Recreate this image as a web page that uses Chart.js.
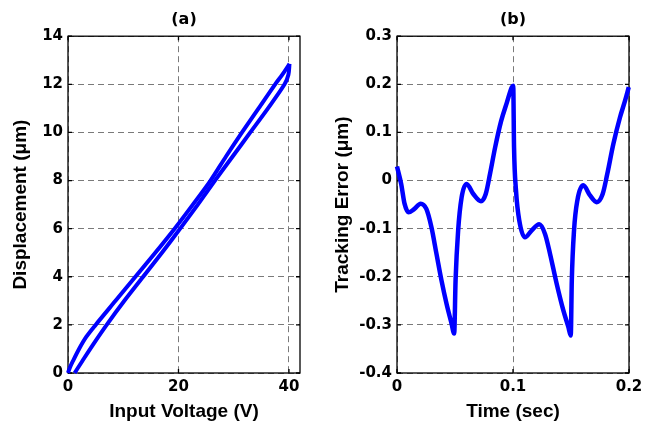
<!DOCTYPE html>
<html lang="en">
<head>
  <meta charset="UTF-8" />
  <title>Hysteresis and tracking error</title>
  <script src="https://cdn.jsdelivr.net/npm/chart.js"></script>
  <style>
    body {
      margin: 0;
      background-color: #ffffff;
    }
    .panel {
      position: absolute;
      top: 0;
    }
  </style>
</head>
<body>
  <canvas id="chartA" class="panel" width="327" height="423" style="left:0"></canvas>
  <canvas id="chartB" class="panel" width="327" height="423" style="left:327px"></canvas>

  <script>
    // (a) hysteresis loop: rising voltage branch (lower) and falling branch (upper)
    const voltUp = [1.2, 2.6, 4.6, 7.0, 10.2, 13.6, 17.0, 20.3, 23.5, 26.6, 29.8, 33.0, 36.2, 39.2, 39.9, 40.1];
    const dispUp = [0, 0.5, 1.2, 2.0, 3.0, 4.0, 5.0, 6.0, 7.0, 8.0, 9.0, 10.0, 11.0, 12.0, 12.4, 12.85];
    const voltDown = [40.1, 38.8, 37.5, 34.5, 31.5, 28.6, 25.8, 22.6, 19.3, 15.8, 12.2, 8.6, 5.0, 3.3, 2.0, 0.9, 0.3, 0];
    const dispDown = [12.85, 12.4, 12.0, 11.0, 10.0, 9.0, 8.0, 7.0, 6.0, 5.0, 4.0, 3.0, 2.0, 1.5, 1.0, 0.5, 0.2, 0];

    // (b) tracking error over time
    const timeB = [0, 0.0036, 0.0065, 0.0100, 0.0150, 0.0204, 0.0253, 0.0297, 0.0340, 0.0383,
      0.0427, 0.0470, 0.0493, 0.0505, 0.0527, 0.0557, 0.0600, 0.0658, 0.0724, 0.0765,
      0.0802, 0.0846, 0.0898, 0.0947, 0.0990, 0.1002, 0.1009, 0.1026, 0.1054, 0.1103,
      0.1160, 0.1226, 0.1276, 0.1319, 0.1376, 0.1434, 0.1477, 0.1498, 0.1507, 0.1526,
      0.1555, 0.1606, 0.1664, 0.1722, 0.1773, 0.1813, 0.1865, 0.1922, 0.1966, 0.1998];
    const errB = [0.029, -0.007, -0.048, -0.066, -0.059, -0.048, -0.059, -0.097, -0.152, -0.207,
      -0.256, -0.297, -0.318, -0.207, -0.104, -0.035, -0.007, -0.028, -0.043, -0.028,
      0.014, 0.069, 0.124, 0.162, 0.194, 0.197, 0.069, -0.021, -0.083, -0.118,
      -0.104, -0.091, -0.111, -0.152, -0.214, -0.270, -0.304, -0.322, -0.207, -0.104,
      -0.041, -0.010, -0.031, -0.045, -0.028, 0.014, 0.076, 0.131, 0.166, 0.194];

    // tick values
    const xTicksA = [0, 20, 40];
    const yTicksA = [0, 2, 4, 6, 8, 10, 12, 14];
    const xTicksB = [0, 0.1, 0.2];
    const yTicksB = [-0.4, -0.3, -0.2, -0.1, 0, 0.1, 0.2, 0.3];

    const toPoints = (xs, ys) => xs.map((v, i) => ({ x: v, y: ys[i] }));

    const tickFont = { family: 'DejaVu Sans', weight: 'bold', size: 15 };
    const titleFont = { family: 'DejaVu Sans', weight: 'bold', size: 16 };
    const axisFont = { family: 'Liberation Sans', weight: 'bold', size: 19 };
    const blue = '#0000ff';
    Chart.defaults.color = '#000';

    // MATLAB style box with inward ticks
    const boxPlugin = {
      id: 'box',
      beforeDatasetsDraw(chart) {
        const { ctx, chartArea: a, scales: { x, y } } = chart;
        ctx.save();
        ctx.strokeStyle = '#000';
        ctx.lineWidth = 1.3;
        ctx.beginPath();
        x.ticks.forEach(t => {
          const p = x.getPixelForValue(t.value);
          ctx.moveTo(p, a.bottom); ctx.lineTo(p, a.bottom - 4);
          ctx.moveTo(p, a.top); ctx.lineTo(p, a.top + 4);
        });
        y.ticks.forEach(t => {
          const p = y.getPixelForValue(t.value);
          ctx.moveTo(a.left, p); ctx.lineTo(a.left + 4, p);
          ctx.moveTo(a.right, p); ctx.lineTo(a.right - 4, p);
        });
        ctx.stroke();
        ctx.strokeRect(a.left, a.top, a.right - a.left, a.bottom - a.top);
        ctx.restore();
      }
    };

    function axis(min, max, ticks, title, isY, yWidth, titlePad) {
      return {
        type: 'linear',
        min: min,
        max: max,
        afterBuildTicks: s => { s.ticks = ticks.map(v => ({ value: v })); },
        afterFit: s => { if (isY) s.width = yWidth; else s.height = 50; },
        ticks: { font: tickFont, padding: 5, color: '#000' },
        grid: {
          color: '#7a7a7a',
          lineWidth: 1,
          drawTicks: false
        },
        border: { display: false, dash: [6, 4] },
        title: { display: true, text: title, font: axisFont, color: '#000', padding: titlePad }
      };
    }

    function makePanel(id, label, datasets, xs, ys, rightPad) {
      const cfg = {
        type: 'scatter',
        data: { datasets: datasets },
        options: {
          responsive: false,
          animation: false,
          layout: { padding: { left: 0, right: rightPad, top: 0, bottom: 0 } },
          plugins: {
            legend: { display: false },
            tooltip: { enabled: false },
            title: {
              display: true,
              text: label,
              fullSize: false,
              font: titleFont,
              color: '#000',
              padding: { top: 10, bottom: 7 }
            }
          },
          scales: { x: xs, y: ys }
        },
        plugins: [boxPlugin]
      };
      // dashed grid lines
      cfg.options.scales.x.grid.borderDash = [6, 4];
      cfg.options.scales.y.grid.borderDash = [6, 4];
      return new Chart(document.getElementById(id), cfg);
    }

    const lineStyle = (data, width, extra) => Object.assign({
      data: data,
      showLine: true,
      borderColor: blue,
      backgroundColor: blue,
      borderWidth: width,
      pointRadius: 0,
      clip: false
    }, extra || {});

    // Panel (a)
    makePanel('chartA', '(a)',
      [
        lineStyle(toPoints(voltUp, dispUp), 4, { tension: 0.3 }),
        lineStyle(toPoints(voltDown, dispDown), 4, { tension: 0.3 })
      ],
      axis(0, 42, xTicksA, 'Input Voltage (V)', false, 0, { top: 0, bottom: 0 }),
      axis(0, 14, yTicksA, 'Displacement (\u03bcm)', true, 68, { top: 9, bottom: 0 }),
      27);

    // Panel (b)
    makePanel('chartB', '(b)',
      [
        lineStyle(toPoints(timeB, errB), 4.5, { cubicInterpolationMode: 'monotone' })
      ],
      axis(0, 0.2, xTicksB, 'Time (sec)', false, 0, { top: 0, bottom: 0 }),
      axis(-0.4, 0.3, yTicksB, 'Tracking Error (\u03bcm)', true, 70, { top: 4, bottom: 0 }),
      25);
  </script>
</body>
</html>
